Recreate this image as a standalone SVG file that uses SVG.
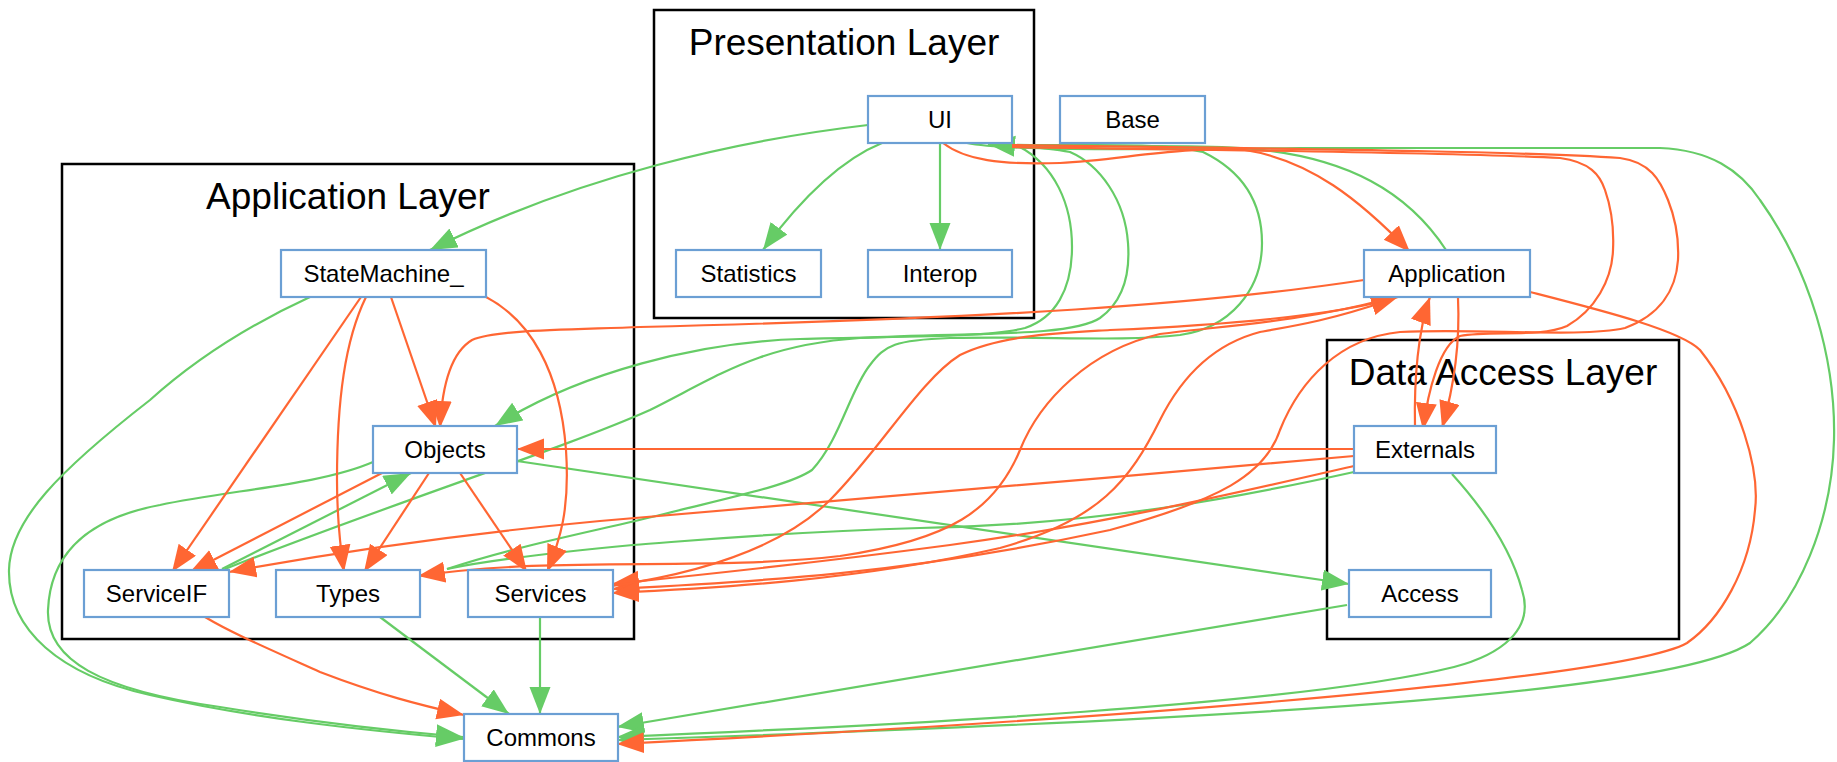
<svg xmlns="http://www.w3.org/2000/svg" width="1837" height="762" viewBox="0 0 1837 762">
<style>
.cl{fill:none;stroke:#000;stroke-width:2.5}
.ct{font-family:"Liberation Sans",Arial,sans-serif;font-size:37px;fill:#000;text-anchor:middle}
.nd rect{fill:#fff;stroke:#6b9fd4;stroke-width:2.2}
.nd text{font-family:"Liberation Sans",Arial,sans-serif;font-size:24px;fill:#000;text-anchor:middle}
.g{fill:none;stroke:#66cc66;stroke-width:2.2}
.o{fill:none;stroke:#ff6633;stroke-width:2.2}
.ga{marker-end:url(#ag)}
.oa{marker-end:url(#ao)}
</style>
<defs>
<marker id="ag" markerUnits="userSpaceOnUse" markerWidth="28" markerHeight="22" refX="27" refY="10.5" orient="auto"><path d="M0,0 L27,10.5 L0,21 z" fill="#66cc66"/></marker>
<marker id="ao" markerUnits="userSpaceOnUse" markerWidth="28" markerHeight="22" refX="27" refY="10.5" orient="auto"><path d="M0,0 L27,10.5 L0,21 z" fill="#ff6633"/></marker>
</defs>
<rect width="1837" height="762" fill="#fff"/>
<g id="cluster-presentation"><rect class="cl" x="654" y="10" width="380" height="308"/><text class="ct" x="844" y="55">Presentation Layer</text></g>
<g id="cluster-application"><rect class="cl" x="62" y="164" width="572" height="475"/><text class="ct" x="348" y="209">Application Layer</text></g>
<g id="cluster-dataaccess"><rect class="cl" x="1327" y="340" width="352" height="299"/><text class="ct" x="1503" y="385">Data Access Layer</text></g>
<g id="edges">
<path class="g ga" d="M868,125 C740,140 580,175 430,250"/>
<path class="g ga" d="M882,143 C840,160 800,200 763,250"/>
<path class="g ga" d="M940,143 L940,250"/>
<path class="g ga" d="M1446,250 C1410,195 1350,155 1240,148 C1150,143 1060,150 988,144"/>
<path class="g ga" d="M967,143 C1000,150 1100,150 1300,148 L1660,148 C1710,150 1740,170 1760,200 C1810,270 1836,360 1834,440 C1832,520 1800,600 1750,643 C1680,690 1300,718 617,740"/>
<path class="g ga" d="M1018,146 C1055,165 1072,205 1072,247 C1072,290 1055,318 1025,328 C985,338 900,336 800,339 C700,342 580,372 495,426"/>
<path class="g" d="M225,569 C400,500 560,450 650,410 C720,375 760,345 860,338 C960,332 1070,338 1100,318 C1125,300 1130,270 1128,243 C1125,200 1100,165 1070,152 C1040,146 1010,146 988,144"/>
<path class="g" d="M447,569 C520,545 600,530 660,515 C740,495 790,485 812,470 C840,440 850,390 870,365 C885,345 895,340 950,338 C1050,336 1120,342 1180,335 C1230,328 1262,290 1262,243 C1262,200 1240,170 1203,152 C1150,140 1050,148 988,144"/>
<path class="g ga" d="M222,569 L411,473"/>
<path class="g ga" d="M373,462 C320,485 230,490 160,505 C80,520 50,560 48,610 C46,660 100,690 220,707 C300,720 380,730 463,737"/>
<path class="g ga" d="M310,297 C260,320 200,355 150,400 C60,470 10,520 9,570 C8,630 60,675 150,695 C250,718 360,730 463,739"/>
<path class="g ga" d="M517,461 L1349,584"/>
<path class="g ga" d="M1347,605 L617,727"/>
<path class="g ga" d="M1452,474 C1480,505 1510,545 1522,590 C1535,630 1500,655 1454,667 C1300,705 900,725 617,737"/>
<path class="g ga" d="M380,617 L509,714"/>
<path class="g ga" d="M540,617 L540,714"/>
<path class="g" d="M1354,472 C1250,495 1100,525 920,528 C780,532 700,540 633,545 C560,552 490,560 447,569"/>
<path class="o oa" d="M943,143 C965,160 1000,165 1060,163 C1120,160 1180,146 1245,150 C1310,160 1360,200 1410,252"/>
<path class="o oa" d="M1012,147 C1200,150 1450,152 1560,158 C1590,162 1600,175 1605,190 C1612,210 1614,230 1613,250 C1612,280 1595,310 1567,326 C1540,338 1490,330 1460,336 C1440,345 1428,390 1423,430"/>
<path class="o oa" d="M1012,145 C1200,148 1500,150 1620,158 C1650,162 1660,180 1668,200 C1676,220 1679,240 1678,260 C1676,290 1660,315 1625,328 C1580,338 1480,328 1400,332 C1340,338 1300,380 1280,430 C1265,475 1220,500 1110,530 C900,575 750,582 612,589"/>
<path class="o oa" d="M1415,426 C1414,380 1418,330 1430,297"/>
<path class="o oa" d="M1458,298 C1460,340 1456,380 1442,428"/>
<path class="o oa" d="M1364,280 C1200,305 1000,318 640,327 C560,330 495,330 472,340 C452,352 442,385 440,428"/>
<path class="o oa" d="M391,297 L436,428"/>
<path class="o oa" d="M361,297 L172,572"/>
<path class="o oa" d="M366,297 C345,340 337,400 337,480 C337,520 340,545 344,572"/>
<path class="o oa" d="M486,297 C530,320 560,370 566,450 C570,510 560,540 547,572"/>
<path class="o oa" d="M382,473 L190,572"/>
<path class="o oa" d="M429,473 L364,572"/>
<path class="o oa" d="M460,473 L527,572"/>
<path class="o oa" d="M1354,449 L517,449"/>
<path class="o oa" d="M1354,456 C1100,478 800,505 600,521 C450,535 320,555 229,572"/>
<path class="o oa" d="M1354,466 C1250,490 1100,525 950,545 C800,565 700,575 612,584"/>
<path class="o oa" d="M612,586 C720,570 790,540 830,500 C880,450 920,380 960,355 C1000,335 1060,333 1110,330 C1200,326 1330,318 1398,297"/>
<path class="o oa" d="M1383,300 C1300,322 1220,326 1160,334 C1090,350 1040,400 1020,450 C995,510 950,540 840,556 C700,572 560,555 418,576"/>
<path class="o oa" d="M1390,300 C1330,320 1300,325 1260,332 C1210,345 1180,380 1160,420 C1130,480 1100,520 1000,548 C860,580 720,588 612,593"/>
<path class="o oa" d="M205,617 C230,632 260,645 320,672 C380,695 420,705 464,715"/>
<path class="o oa" d="M1530,292 C1600,310 1680,330 1700,350 C1740,400 1760,470 1755,510 C1750,570 1720,620 1687,643 C1640,670 1300,710 617,744"/>
</g>
<g id="node-ui" class="nd"><rect x="868" y="96" width="144" height="47"/><text x="940" y="128">UI</text></g>
<g id="node-base" class="nd"><rect x="1060" y="96" width="145" height="47"/><text x="1132.5" y="128">Base</text></g>
<g id="node-statistics" class="nd"><rect x="676" y="250" width="145" height="47"/><text x="748.5" y="282">Statistics</text></g>
<g id="node-interop" class="nd"><rect x="868" y="250" width="144" height="47"/><text x="940" y="282">Interop</text></g>
<g id="node-statemachine" class="nd"><rect x="281" y="250" width="205" height="47"/><text x="383.5" y="282">StateMachine_</text></g>
<g id="node-application" class="nd"><rect x="1364" y="250" width="166" height="47"/><text x="1447" y="282">Application</text></g>
<g id="node-objects" class="nd"><rect x="373" y="426" width="144" height="47"/><text x="445" y="458">Objects</text></g>
<g id="node-externals" class="nd"><rect x="1354" y="426" width="142" height="47"/><text x="1425" y="458">Externals</text></g>
<g id="node-serviceif" class="nd"><rect x="84" y="570" width="145" height="47"/><text x="156.5" y="602">ServiceIF</text></g>
<g id="node-types" class="nd"><rect x="276" y="570" width="144" height="47"/><text x="348" y="602">Types</text></g>
<g id="node-services" class="nd"><rect x="468" y="570" width="145" height="47"/><text x="540.5" y="602">Services</text></g>
<g id="node-access" class="nd"><rect x="1349" y="570" width="142" height="47"/><text x="1420" y="602">Access</text></g>
<g id="node-commons" class="nd"><rect x="464" y="714" width="154" height="47"/><text x="541" y="746">Commons</text></g>
</svg>
